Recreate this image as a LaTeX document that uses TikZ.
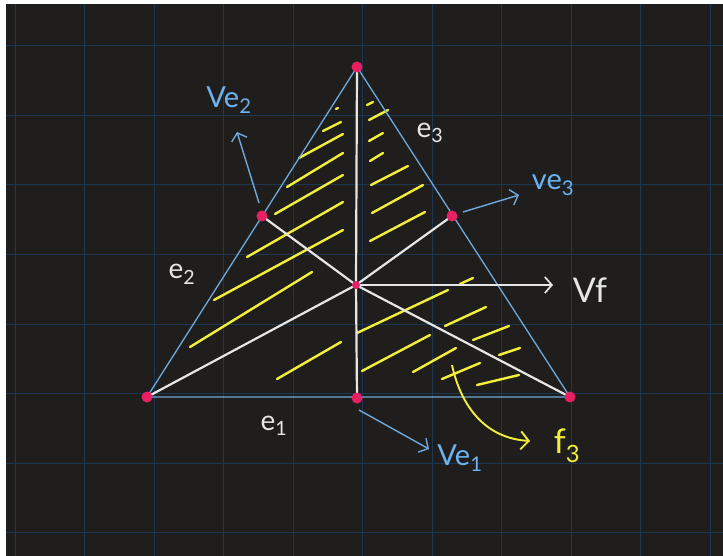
\documentclass[tikz,border=0pt]{standalone}
\usepackage{fontspec}
\setmainfont{Lato}
\usetikzlibrary{arrows.meta}
\definecolor{bgdark}{RGB}{31,30,29}
\definecolor{gridblue}{RGB}{28,55,82}
\definecolor{edgeblue}{RGB}{111,168,220}
\definecolor{labelblue}{RGB}{109,179,242}
\definecolor{spokewhite}{RGB}{230,230,230}
\definecolor{hatchyellow}{RGB}{244,240,58}
\definecolor{dotpink}{RGB}{233,30,99}
\tikzset{
  gridline/.style={
    draw=gridblue,
    line width=1pt
  },
  edgeline/.style={
    draw=edgeblue,
    line width=1.3pt
  },
  spoke/.style={
    draw=spokewhite,
    line width=2.2pt,
    line cap=round
  },
  hatch/.style={
    draw=hatchyellow,
    line width=2.4pt,
    line cap=round
  },
  vertexdot/.style={
    circle,
    fill=dotpink,
    minimum size=11pt,
    inner sep=0pt
  },
  bluearrow/.style={
    -{Straight Barb[length=7pt,width=16pt]},
    draw=edgeblue,
    line width=1.4pt
  },
  whitearrow/.style={
    -{Straight Barb[length=7pt,width=16pt]},
    draw=spokewhite,
    line width=1.7pt
  },
  yellowarrow/.style={
    -{Straight Barb[length=8pt,width=18pt]},
    draw=hatchyellow,
    line width=1.9pt
  },
  bluelabel/.style={
    text=labelblue,
    inner sep=0pt,
    font=\fontsize{29}{32}\selectfont
  },
  whitelabel/.style={
    text=spokewhite,
    inner sep=0pt,
    font=\fontsize{28}{30}\selectfont
  },
  yellowlabel/.style={
    text=hatchyellow,
    inner sep=0pt,
    font=\fontsize{34}{36}\selectfont
  }
}

\begin{document}
\begin{tikzpicture}[x=1pt,y=-1pt]
  \useasboundingbox (0,0) rectangle (723,556);
  \fill[white] (0,0) rectangle (723,556);
  \fill[bgdark] (6,4) rectangle (723,556);
  \foreach \gx in {15,84.5,...,710} \draw[gridline] (\gx,4) -- (\gx,556);
  \foreach \gy in {46,115.5,...,534} \draw[gridline] (6,\gy) -- (723,\gy);

  % triangle corners, edge points and face point
  \coordinate (top) at (357,67);
  \coordinate (bl) at (147,397);
  \coordinate (br) at (570,397);
  \coordinate (m1) at (357,398);
  \coordinate (m2) at (262,216);
  \coordinate (m3) at (452,216);
  \coordinate (ctr) at (356,285);

  % hatching of the face
  \draw[hatch]
    (336,109) -- (338,108)
    (323,131) -- (341,122)
    (299,158) -- (343,134)
    (287,187) -- (343,153)
    (275,214) -- (343,175)
    (247,257) -- (343,202)
    (214,300) -- (343,230)
    (190,347) -- (312,272)
    (277,379) -- (341,342)
    (367,105) -- (373,102)
    (369,120) -- (388,110)
    (369,141) -- (383,133)
    (370,161) -- (383,153)
    (371,185) -- (408,166)
    (372,213) -- (423,185)
    (370,241) -- (425,212)
    (460,284) -- (473,278)
    (357,333) -- (448,290)
    (362,371) -- (430,335)
    (445,326) -- (486,307)
    (413,372) -- (456,348)
    (473,340) -- (509,326)
    (442,379) -- (480,363)
    (499,355) -- (520,348)
    (477,385) -- (519,375);

  \draw[edgeline] (bl) -- (br) -- (top) -- cycle;

  \draw[spoke] (top) -- (ctr) -- (m1);
  \draw[spoke] (bl) -- (ctr) -- (br);
  \draw[spoke] (m2) -- (ctr) -- (m3);

  \coordinate (vftip) at (553,285);
  \coordinate (ve1tip) at (429,449);
  \coordinate (ve2tip) at (237,132);
  \coordinate (ve3tip) at (519,195);
  \coordinate (f3tip) at (530,441);
  \coordinate (f3start) at (452,365);

  \draw[whitearrow] (ctr) -- (vftip);
  \draw[bluearrow] ([shift={(2,12)}]m1) -- (ve1tip);
  \draw[bluearrow] ([shift={(-3,-13)}]m2) -- (ve2tip);
  \draw[bluearrow] ([shift={(11,-4)}]m3) -- (ve3tip);
  \draw[yellowarrow] (f3start) .. controls (460,402) and (482,438) .. (f3tip);

  \node[vertexdot] (dtop) at (top) {};
  \node[vertexdot] (dbl) at (bl) {};
  \node[vertexdot] (dbr) at (br) {};
  \node[vertexdot] (dm1) at (m1) {};
  \node[vertexdot] (dm2) at (m2) {};
  \node[vertexdot] (dm3) at (m3) {};
  \node[vertexdot, minimum size=8pt] (dctr) at (ctr) {};

  \node[whitelabel] (le1) at (274,426) {e\textsubscript{1}};
  \node[whitelabel] (le2) at (182,274) {e\textsubscript{2}};
  \node[whitelabel] (le3) at (430,133) {e\textsubscript{3}};
  \node[bluelabel] (lve1) at (460,458) {Ve\textsubscript{1}};
  \node[bluelabel] (lve2) at (229,100) {Ve\textsubscript{2}};
  \node[bluelabel] (lve3) at (553,185) {ve\textsubscript{3}};
  \node[whitelabel, font=\fontsize{34}{36}\selectfont] (lvf) at (590,290) {Vf};
  \node[yellowlabel] (lf3) at (567,446) {f\textsubscript{3}};
\end{tikzpicture}
\end{document}
